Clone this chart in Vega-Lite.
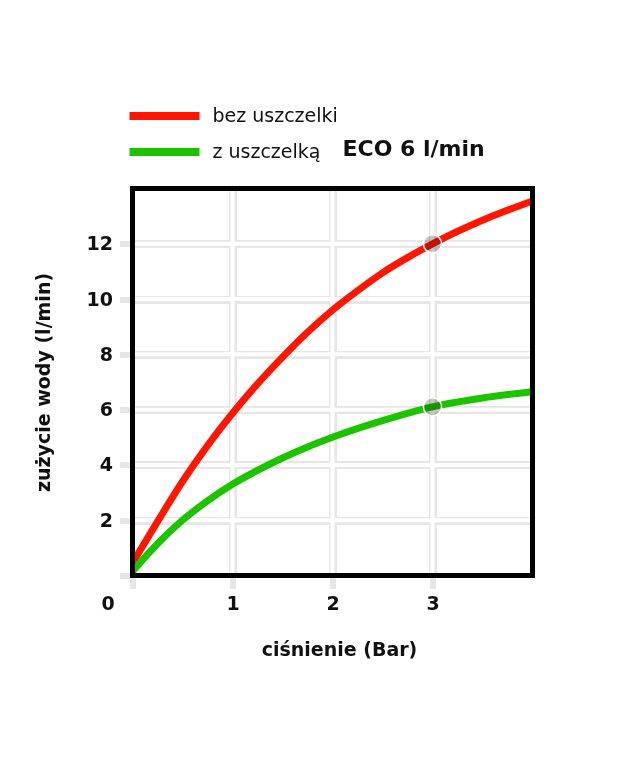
{
  "$schema": "https://vega.github.io/schema/vega-lite/v6.json",
  "width": 400,
  "height": 387,
  "autosize": {"type": "none"},
  "padding": {"left": 132.5, "top": 188.5, "right": 87.5, "bottom": 185.5},
  "background": "white",
  "config": {
    "view": {"stroke": null},
    "axis": {
      "domain": false,
      "grid": true,
      "gridColor": "#e6e6e6",
      "gridWidth": 8,
      "tickColor": "#e6e6e6",
      "tickWidth": 6,
      "tickSize": 13,
      "labelFont": "DejaVu Sans",
      "labelFontWeight": "bold",
      "labelFontSize": 19,
      "labelColor": "#111111",
      "titleFont": "DejaVu Sans",
      "titleFontWeight": "bold",
      "titleFontSize": 19,
      "titleColor": "#111111"
    }
  },
  "datasets": {
    "curves": [
      {"p": 0.0, "q": 0.45, "s": "bez uszczelki"},
      {"p": 0.25, "q": 1.95, "s": "bez uszczelki"},
      {"p": 0.5, "q": 3.4, "s": "bez uszczelki"},
      {"p": 0.75, "q": 4.7, "s": "bez uszczelki"},
      {"p": 1.0, "q": 5.87, "s": "bez uszczelki"},
      {"p": 1.25, "q": 6.93, "s": "bez uszczelki"},
      {"p": 1.5, "q": 7.9, "s": "bez uszczelki"},
      {"p": 1.75, "q": 8.8, "s": "bez uszczelki"},
      {"p": 2.0, "q": 9.6, "s": "bez uszczelki"},
      {"p": 2.25, "q": 10.3, "s": "bez uszczelki"},
      {"p": 2.5, "q": 10.95, "s": "bez uszczelki"},
      {"p": 2.75, "q": 11.5, "s": "bez uszczelki"},
      {"p": 3.0, "q": 12.0, "s": "bez uszczelki"},
      {"p": 3.5, "q": 12.85, "s": "bez uszczelki"},
      {"p": 4.0, "q": 13.55, "s": "bez uszczelki"},
      {"p": 0.0, "q": 0.15, "s": "z uszczelką"},
      {"p": 0.25, "q": 1.15, "s": "z uszczelką"},
      {"p": 0.5, "q": 2.0, "s": "z uszczelką"},
      {"p": 0.75, "q": 2.7, "s": "z uszczelką"},
      {"p": 1.0, "q": 3.3, "s": "z uszczelką"},
      {"p": 1.25, "q": 3.8, "s": "z uszczelką"},
      {"p": 1.5, "q": 4.25, "s": "z uszczelką"},
      {"p": 1.75, "q": 4.65, "s": "z uszczelką"},
      {"p": 2.0, "q": 5.0, "s": "z uszczelką"},
      {"p": 2.5, "q": 5.6, "s": "z uszczelką"},
      {"p": 3.0, "q": 6.1, "s": "z uszczelką"},
      {"p": 3.5, "q": 6.42, "s": "z uszczelką"},
      {"p": 4.0, "q": 6.65, "s": "z uszczelką"}
    ],
    "marks": [
      {"p": 3.0, "q": 12.0},
      {"p": 3.0, "q": 6.1}
    ],
    "gridx": [{"g": 1}, {"g": 2}, {"g": 3}],
    "gridy": [{"g": 2}, {"g": 4}, {"g": 6}, {"g": 8}, {"g": 10}, {"g": 12}],
    "framex": [{"g": 0}, {"g": 4}],
    "framey": [{"g": 0}, {"g": 14}]
  },
  "encoding": {
    "x": {
      "field": "p", "type": "quantitative",
      "scale": {"domain": [0, 4], "nice": false, "zero": false},
      "axis": {
        "title": "ciśnienie (Bar)",
        "values": [0, 1, 2, 3],
        "labelFlush": false,
        "labelPadding": 6,
        "titlePadding": 27,
        "titleX": 206.5,
        "labelOffset": {"condition": {"test": "datum.value == 0", "value": -25}, "value": 0},
        "gridOpacity": {"condition": {"test": "datum.value == 0", "value": 0}, "value": 1}
      }
    },
    "y": {
      "field": "q", "type": "quantitative",
      "scale": {"domain": [0, 14], "nice": false, "zero": false},
      "axis": {
        "title": "zużycie wody (l/min)",
        "values": [0, 2, 4, 6, 8, 10, 12],
        "labelExpr": "datum.value == 0 ? '' : datum.label",
        "labelPadding": 7,
        "titlePadding": 33,
        "gridOpacity": {"condition": {"test": "datum.value == 0", "value": 0}, "value": 1}
      }
    }
  },
  "layer": [
    {
      "data": {"name": "gridx"},
      "mark": {"type": "rule", "color": "white", "strokeWidth": 4},
      "encoding": {"x": {"field": "g", "type": "quantitative"}, "y": null}
    },
    {
      "data": {"name": "gridy"},
      "mark": {"type": "rule", "color": "white", "strokeWidth": 4},
      "encoding": {"y": {"field": "g", "type": "quantitative"}, "x": null}
    },
    {
      "data": {"name": "curves"},
      "mark": {"type": "line", "strokeWidth": 7, "interpolate": "monotone", "clip": true},
      "encoding": {
        "color": {
          "field": "s", "type": "nominal",
          "scale": {"domain": ["bez uszczelki", "z uszczelką"], "range": ["#ff1500", "#1cc400"]},
          "legend": {
            "title": null,
            "orient": "none",
            "legendX": 22.5,
            "legendY": -82,
            "padding": 0,
            "symbolType": "M-10,0H10",
            "symbolSize": 49,
            "symbolStrokeWidth": 8,
            "labelOffset": 38.5,
            "labelFont": "DejaVu Sans",
            "labelFontSize": 19,
            "labelColor": "#111111",
            "labelLimit": 400,
            "rowPadding": 3
          }
        }
      }
    },
    {
      "data": {"name": "marks"},
      "mark": {"type": "point", "filled": true, "size": 330, "color": "#c6c6c6", "opacity": 1, "blend": "multiply"},
      "encoding": {
        "shape": {
          "datum": "ECO 6 l/min",
          "scale": {"range": ["circle"]},
          "legend": {
            "title": null,
            "orient": "none",
            "legendX": 188,
            "legendY": -50.5,
            "padding": 0,
            "symbolOpacity": 0,
            "symbolSize": 1,
            "labelOffset": 0,
            "labelFont": "DejaVu Sans",
            "labelFontSize": 22,
            "labelFontWeight": "bold",
            "labelColor": "#111111",
            "labelLimit": 400
          }
        }
      }
    },
    {
      "data": {"name": "marks"},
      "mark": {"type": "point", "filled": false, "size": 330, "color": "white", "strokeWidth": 1.5, "opacity": 1}
    },
    {
      "data": {"name": "framex"},
      "mark": {"type": "rule", "color": "black", "strokeWidth": 5, "strokeCap": "square", "clip": false},
      "encoding": {"x": {"field": "g", "type": "quantitative"}, "y": null}
    },
    {
      "data": {"name": "framey"},
      "mark": {"type": "rule", "color": "black", "strokeWidth": 5, "strokeCap": "square", "clip": false},
      "encoding": {"y": {"field": "g", "type": "quantitative"}, "x": null}
    }
  ]
}
